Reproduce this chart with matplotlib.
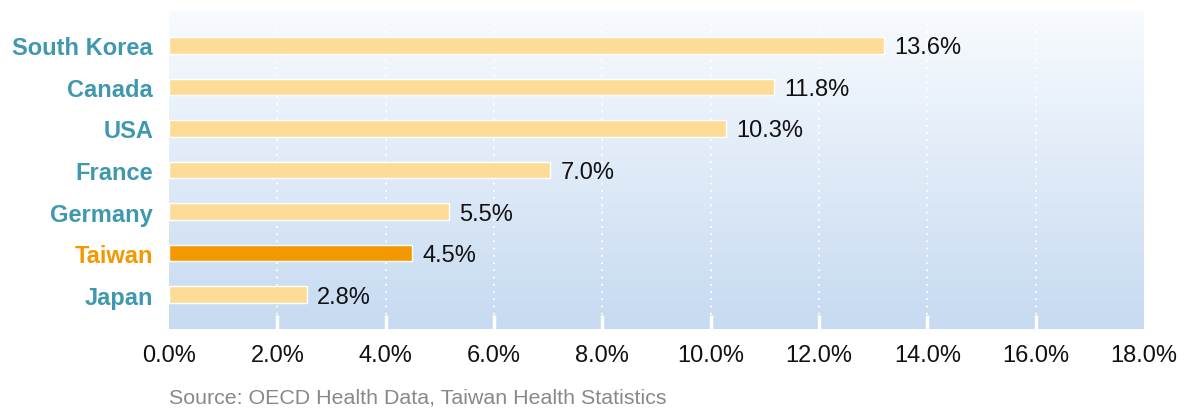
import numpy as np
import matplotlib
matplotlib.use("Agg")
import matplotlib.pyplot as plt

# data (top to bottom as shown)
countries = ["South Korea", "Canada", "USA", "France", "Germany", "Taiwan", "Japan"]
# bar lengths as drawn in the picture (they don't all match the printed labels)
bar_values = [13.2, 11.17, 10.28, 7.04, 5.17, 4.49, 2.55]
value_labels = ["13.6%", "11.8%", "10.3%", "7.0%", "5.5%", "4.5%", "2.8%"]
highlight = "Taiwan"
x_ticks = [0, 2, 4, 6, 8, 10, 12, 14, 16, 18]
source_text = "Source: OECD Health Data, Taiwan Health Statistics"

plt.rcParams['font.family'] = ['Liberation Sans', 'DejaVu Sans']

fig = plt.figure(figsize=(11.91, 4.10), dpi=100)
ax = fig.add_axes([169 / 1191, 80 / 410, 975 / 1191, 318 / 410])

# gradient background
top_col = np.array([0xf8, 0xfb, 0xfe]) / 255
bot_col = np.array([0xc6, 0xda, 0xf1]) / 255
t = np.linspace(0, 1, 256)[:, None]
grad = (top_col * (1 - t) + bot_col * t)[:, None, :]
ax.imshow(grad, extent=[0, 1, 0, 1], transform=ax.transAxes,
          aspect='auto', zorder=0, interpolation='bilinear')

y = np.arange(len(countries))
colors = ['#f39800' if c == highlight else '#fddc97' for c in countries]
ax.barh(y, bar_values, height=0.39, color=colors, edgecolor='white',
        linewidth=1, zorder=3)

for yi, v, lab in zip(y, bar_values, value_labels):
    ax.annotate(lab, (v, yi), xytext=(10, -2), textcoords='offset pixels',
                va='center', ha='left', fontsize=17, color='#111111', zorder=4)

ax.set_xlim(0, 18)
ax.set_ylim(len(countries) - 0.17, -0.83)
ax.set_xticks(x_ticks)
ax.set_xticklabels([f"{v:.1f}%" for v in x_ticks])
ax.set_yticks(y)
ax.set_yticklabels(countries)

for lbl, c in zip(ax.get_yticklabels(), countries):
    lbl.set_fontweight('bold')
    lbl.set_fontsize(17)
    lbl.set_color('#f39800' if c == highlight else '#3f98ae')

ax.tick_params(axis='y', length=0, pad=11.5)
ax.tick_params(axis='x', direction='in', length=10, width=2.5, color='white',
               labelsize=17, labelcolor='#111111', pad=11)

ax.grid(axis='x', color='white', linestyle=(0, (1, 3)), linewidth=1.3, zorder=1)
ax.set_axisbelow(True)
# no tick / gridline at the two ends
xt = ax.xaxis.get_major_ticks()
for tk in (xt[0], xt[-1]):
    tk.tick1line.set_visible(False)
    tk.gridline.set_visible(False)
for s in ax.spines.values():
    s.set_visible(False)

fig.text(169 / 1191, 1 - 398 / 410, source_text, fontsize=15.4, color='#888888',
         ha='left', va='center')

fig.savefig("out.png", dpi=100)
